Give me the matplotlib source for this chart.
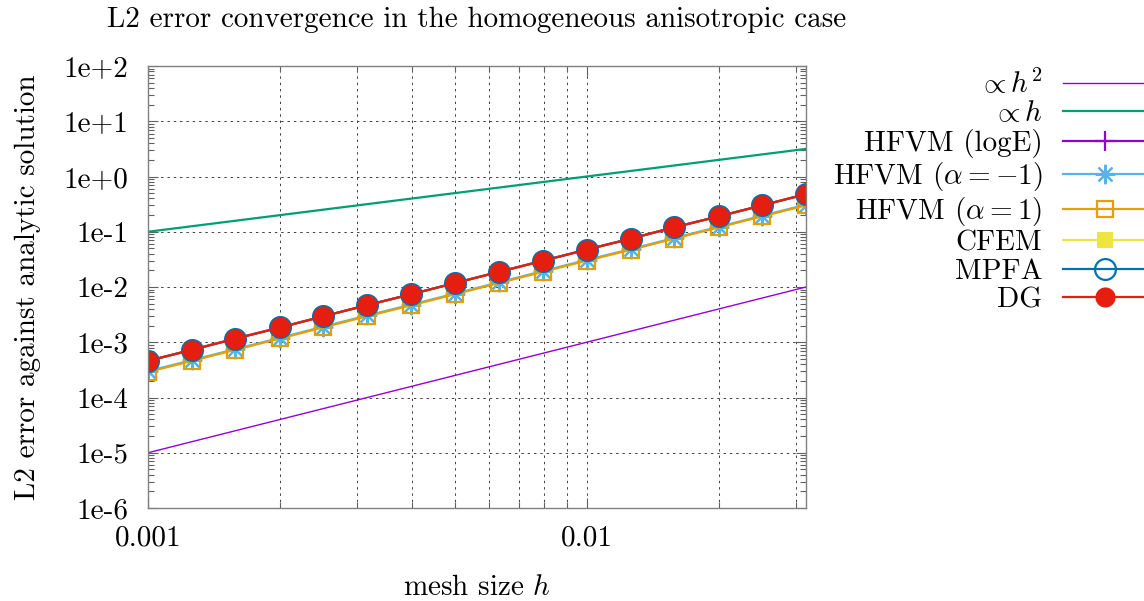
import matplotlib
matplotlib.use('Agg')
import matplotlib.pyplot as plt
from matplotlib.ticker import FixedLocator, FixedFormatter, NullFormatter

plt.rcParams['font.family'] = ['cmr10', 'DejaVu Serif']
plt.rcParams['mathtext.fontset'] = 'cm'
plt.rcParams['axes.formatter.use_mathtext'] = True

# ---- data ----
h = [0.001, 0.00126, 0.00158, 0.002, 0.00251, 0.00316, 0.00398, 0.00501,
     0.00631, 0.00794, 0.01, 0.0126, 0.0158, 0.02, 0.0251, 0.0316]

ref_h_ends = [0.001, 0.0316]
ref_h2 = [1e-5, 1e-2]
ref_h1 = [1e-1, 3.16]

hfvm_loge = [4.6e-4, 7.3e-4, 1.16e-3, 1.85e-3, 2.95e-3, 4.7e-3, 7.4e-3, 1.18e-2,
             1.88e-2, 2.98e-2, 4.75e-2, 7.5e-2, 0.12, 0.19, 0.30, 0.48]
hfvm_am1 = [3.0e-4, 4.75e-4, 7.5e-4, 1.2e-3, 1.92e-3, 3.05e-3, 4.8e-3, 7.6e-3,
            1.22e-2, 1.94e-2, 3.1e-2, 4.85e-2, 7.7e-2, 0.123, 0.195, 0.31]
hfvm_a1 = [2.9e-4, 4.6e-4, 7.3e-4, 1.17e-3, 1.86e-3, 2.96e-3, 4.66e-3, 7.4e-3,
           1.18e-2, 1.88e-2, 3.0e-2, 4.7e-2, 7.5e-2, 0.12, 0.19, 0.30]
cfem = [4.6e-4, 7.3e-4, 1.16e-3, 1.85e-3, 2.95e-3, 4.7e-3, 7.4e-3, 1.18e-2,
        1.88e-2, 2.98e-2, 4.75e-2, 7.5e-2, 0.12, 0.19, 0.30, 0.48]
mpfa = [4.6e-4, 7.3e-4, 1.16e-3, 1.85e-3, 2.95e-3, 4.7e-3, 7.4e-3, 1.18e-2,
        1.88e-2, 2.98e-2, 4.75e-2, 7.5e-2, 0.12, 0.19, 0.30, 0.48]
dg = [4.6e-4, 7.3e-4, 1.16e-3, 1.85e-3, 2.95e-3, 4.7e-3, 7.4e-3, 1.18e-2,
      1.88e-2, 2.98e-2, 4.75e-2, 7.5e-2, 0.12, 0.19, 0.30, 0.48]

y_ticks = [1e-6, 1e-5, 1e-4, 1e-3, 1e-2, 1e-1, 1e0, 1e1, 1e2]
y_labels = ['1e-6', '1e-5', '1e-4', '1e-3', '1e-2', '1e-1', '1e+0', '1e+1', '1e+2']
x_ticks = [0.001, 0.01]
x_labels = ['0.001', '0.01']

title = 'L2 error convergence in the homogeneous anisotropic case'

# ---- figure ----
fig = plt.figure(figsize=(11.44, 6.01), dpi=100)
ax = fig.add_axes([148/1144, 1-508/601, (806-148)/1144, (508-66)/601])

FS = 21
ax.plot(ref_h_ends, ref_h2, color='#9400D3', lw=1.0, label=r'$\propto h^2$')
ax.plot(ref_h_ends, ref_h1, color='#009E73', lw=1.6, label=r'$\propto h$')
ax.plot(h, hfvm_loge, color='#9400D3', lw=1.6, marker='+', ms=14, mew=1.6,
        label='HFVM (logE)')
ax.plot(h, hfvm_am1, color='#56B4E9', lw=1.6, marker=(8, 2, 0), ms=14, mew=1.6,
        label=r'HFVM ($\alpha=-1$)')
ax.plot(h, hfvm_a1, color='#E69F00', lw=1.6, marker='s', ms=12, mew=1.6,
        mfc='none', label=r'HFVM ($\alpha=1$)')
ax.plot(h, cfem, color='#F0E442', lw=1.6, marker='s', ms=12, mew=0,
        label='CFEM')
ax.plot(h, mpfa, color='#0072B2', lw=1.6, marker='o', ms=15, mew=1.6,
        mfc='none', label='MPFA')
ax.plot(h, dg, color='#E51E10', lw=1.6, marker='o', ms=14.5, mew=0,
        label='DG')

ax.set_xscale('log')
ax.set_yscale('log')
ax.set_xlim(0.001, 0.0316)
ax.set_ylim(1e-6, 1e2)

ax.xaxis.set_major_locator(FixedLocator(x_ticks))
ax.xaxis.set_major_formatter(FixedFormatter(x_labels))
ax.xaxis.set_minor_locator(FixedLocator([0.002, 0.003, 0.004, 0.005, 0.006,
                                         0.007, 0.008, 0.009, 0.02, 0.03]))
ax.xaxis.set_minor_formatter(NullFormatter())
ax.yaxis.set_major_locator(FixedLocator(y_ticks))
ax.yaxis.set_major_formatter(FixedFormatter(y_labels))
ax.yaxis.set_minor_locator(FixedLocator(
    [m * 10.0**e for e in range(-6, 2) for m in range(2, 10)]))
ax.yaxis.set_minor_formatter(NullFormatter())

ax.tick_params(which='both', direction='in', top=True, right=True,
               color='#606060', labelsize=FS)
ax.tick_params(which='major', length=7, width=0.8)
ax.tick_params(which='minor', length=4, width=0.8)
ax.tick_params(axis='x', which='major', pad=12)
ax.tick_params(axis='y', which='major', pad=14)
for s in ax.spines.values():
    s.set_color('#808080')
    s.set_linewidth(1.0)

ax.grid(True, axis='x', which='both', color='#404040', lw=0.7,
        linestyle=(0, (2.5, 4)))
ax.grid(True, axis='y', which='major', color='#404040', lw=0.7,
        linestyle=(0, (2.5, 4)))
ax.set_axisbelow(True)

ax.set_xlabel(r'mesh size $h$', fontsize=FS)
ax.xaxis.set_label_coords(0.5, (508-595)/442)
ax.xaxis.label.set_va('baseline')
ax.set_ylabel('L2 error against analytic solution', fontsize=FS)
ax.yaxis.set_label_coords((28-148)/658, 0.5)
ax.yaxis.label.set_va('center')

ax.set_title(title, fontsize=FS, pad=28)

fig.legend(loc='upper right', bbox_to_anchor=(1.003, 1-69/601),
           bbox_transform=fig.transFigure, frameon=False, markerfirst=False,
           fontsize=FS, handlelength=2.9, handletextpad=0.7,
           labelspacing=0.065, borderpad=0, borderaxespad=0)

fig.savefig('out.png', dpi=100)
